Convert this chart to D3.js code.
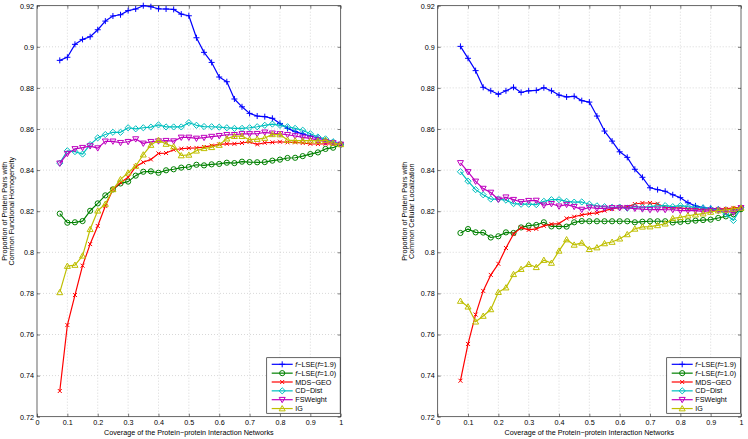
<!DOCTYPE html>
<html><head><meta charset="utf-8">
<script src="https://cdn.jsdelivr.net/npm/d3@7/dist/d3.min.js"></script>
<style>
html,body{margin:0;padding:0;background:#fff;}
svg{display:block;}
text{font-family:"Liberation Sans",Arial,Helvetica,sans-serif;fill:#000;}
</style></head>
<body>
<svg id="chart" width="748" height="439"></svg>
<script>
const coverage = [0.075,0.1,0.125,0.15,0.175,0.2,0.225,0.25,0.275,0.3,0.325,0.35,0.375,0.4,0.425,0.45,0.475,0.5,0.525,0.55,0.575,0.6,0.625,0.65,0.675,0.7,0.725,0.75,0.775,0.8,0.825,0.85,0.875,0.9,0.925,0.95,0.975,1.0];
const seriesNames = ["f-LSE(f=1.9)","f-LSE(f=1.0)","MDS\u2212GEO","CD\u2212Dist","FSWeight","IG"];
const xTicks = [0,0.1,0.2,0.3,0.4,0.5,0.6,0.7,0.8,0.9,1];
const xTickLabels = ["0","0.1","0.2","0.3","0.4","0.5","0.6","0.7","0.8","0.9","1"];
const yTicks = [0.72,0.74,0.76,0.78,0.8,0.82,0.84,0.86,0.88,0.9,0.92];
const yTickLabels = ["0.72","0.74","0.76","0.78","0.8","0.82","0.84","0.86","0.88","0.9","0.92"];
const xLabel = "Coverage of the Protein\u2212protein Interaction Networks";
const yLabelLeft = ["Proportion of Protein Pairs with","Common Functional Homogeneity"];
const yLabelRight = ["Proportion of Protein Pairs with","Common Cellular Localization"];

// Left panel: functional homogeneity
const fhLse19 = [0.8934,0.8949,0.9012,0.9036,0.9049,0.9083,0.9125,0.915,0.9156,0.9176,0.9184,0.92,0.9195,0.9185,0.9184,0.9182,0.9159,0.9151,0.9044,0.8973,0.8924,0.8853,0.883,0.8746,0.8708,0.8676,0.8663,0.866,0.8652,0.8627,0.8603,0.8587,0.8576,0.8566,0.8556,0.8546,0.8535,0.8525];
const fhLse10 = [0.8188,0.8144,0.8146,0.8152,0.8202,0.8238,0.8277,0.8306,0.8335,0.8344,0.8373,0.8392,0.8394,0.8387,0.8399,0.8404,0.8412,0.8415,0.8426,0.8423,0.8428,0.843,0.8436,0.8434,0.8441,0.8439,0.8438,0.8439,0.8446,0.8451,0.8459,0.846,0.8468,0.8478,0.8486,0.8503,0.8509,0.8525];
const fhMds = [0.7325,0.7646,0.7792,0.7935,0.804,0.8128,0.8225,0.8306,0.8339,0.8365,0.8417,0.8438,0.8452,0.8481,0.8483,0.8499,0.8504,0.8507,0.8508,0.8512,0.8519,0.8525,0.8528,0.8528,0.8532,0.8537,0.8525,0.8533,0.8535,0.8538,0.8535,0.8535,0.8532,0.8528,0.8527,0.8528,0.8527,0.8525];
const fhCd = [0.8434,0.8494,0.849,0.8478,0.8524,0.8557,0.8573,0.8584,0.8584,0.8606,0.8601,0.8606,0.8609,0.862,0.861,0.861,0.861,0.8631,0.8618,0.8612,0.8611,0.8609,0.8606,0.8603,0.8603,0.8606,0.8611,0.8618,0.8624,0.8618,0.8611,0.8603,0.8594,0.8577,0.8561,0.8552,0.8538,0.8525];
const fhFs = [0.8433,0.848,0.8503,0.8509,0.8517,0.8507,0.854,0.854,0.8533,0.8538,0.8551,0.853,0.8538,0.8541,0.8543,0.8541,0.8559,0.8559,0.8554,0.8558,0.8563,0.8567,0.8572,0.8572,0.8576,0.8576,0.8577,0.8584,0.8579,0.8576,0.8572,0.8566,0.8559,0.8554,0.8546,0.8538,0.8532,0.8525];
const fhIg = [0.7805,0.7933,0.7938,0.7983,0.8112,0.8202,0.8235,0.8306,0.8355,0.8387,0.842,0.8475,0.8522,0.8546,0.8527,0.8514,0.8471,0.8474,0.8494,0.8506,0.8511,0.8522,0.8553,0.8565,0.8565,0.8548,0.8551,0.8556,0.8574,0.8573,0.8546,0.8543,0.8543,0.8543,0.8542,0.8546,0.8532,0.8525];

// Right panel: cellular localization
const clLse19 = [0.9002,0.8944,0.8884,0.8803,0.8786,0.8769,0.8786,0.8803,0.8778,0.8786,0.8788,0.8801,0.8786,0.8765,0.8756,0.8759,0.8738,0.8731,0.8663,0.859,0.8541,0.8489,0.8462,0.8404,0.8365,0.8314,0.8305,0.8297,0.828,0.8266,0.8241,0.8226,0.8217,0.8214,0.821,0.8208,0.8208,0.8215];
const clLse10 = [0.8094,0.8113,0.8097,0.8096,0.8072,0.8078,0.8097,0.8094,0.8121,0.813,0.8133,0.8146,0.8126,0.8126,0.8125,0.8146,0.8152,0.8151,0.8151,0.8151,0.8151,0.8151,0.8151,0.8146,0.8149,0.8151,0.8151,0.8151,0.8145,0.8148,0.8151,0.8154,0.8157,0.8159,0.8167,0.8175,0.8185,0.821];
const clMds = [0.7375,0.7554,0.7697,0.7812,0.789,0.7944,0.8021,0.8089,0.812,0.8109,0.8114,0.8129,0.8137,0.814,0.8165,0.8173,0.8182,0.8188,0.8192,0.8203,0.8211,0.8219,0.8221,0.8235,0.824,0.824,0.8236,0.8219,0.8216,0.8216,0.8211,0.8211,0.8207,0.8207,0.8211,0.8211,0.8216,0.8219];
const clCd = [0.8392,0.8346,0.8305,0.828,0.8259,0.8259,0.8254,0.8237,0.8234,0.8234,0.8232,0.8248,0.8256,0.8256,0.8248,0.8244,0.8245,0.8234,0.8226,0.8222,0.8219,0.822,0.8215,0.8222,0.8218,0.8222,0.8226,0.8227,0.8222,0.8227,0.8222,0.8219,0.8216,0.8211,0.8206,0.8186,0.8155,0.8216];
const clFs = [0.8435,0.8391,0.8345,0.831,0.8291,0.8257,0.8268,0.8256,0.8245,0.8251,0.8252,0.8229,0.8236,0.8224,0.8232,0.8222,0.8208,0.8218,0.8214,0.8214,0.8216,0.8216,0.8216,0.8213,0.821,0.8207,0.8209,0.8207,0.8207,0.8203,0.8203,0.8203,0.8199,0.8203,0.8203,0.8199,0.8194,0.8216];
const clIg = [0.7763,0.7735,0.7662,0.769,0.7722,0.7806,0.7828,0.7893,0.7918,0.7942,0.7927,0.7962,0.7948,0.8007,0.8062,0.8036,0.8046,0.8015,0.8023,0.8043,0.805,0.8066,0.8087,0.8114,0.8124,0.8125,0.8131,0.8139,0.8165,0.817,0.8178,0.8183,0.8188,0.8196,0.8203,0.8206,0.8211,0.8216];

const colors = ["#0000ff","#008000","#ff0000","#00bfbf","#bf00bf","#bfbf00"];
const markers = ["plus","circle","cross","diamond","tridown","triup"];

function markerPath(type){
  switch(type){
    case "plus": return "M-3,0H3M0,-3V3";
    case "cross": return "M-2,-2L2,2M-2,2L2,-2";
    case "circle": return "M2.6,0A2.6,2.6 0 1 1 -2.6,0A2.6,2.6 0 1 1 2.6,0Z";
    case "diamond": return "M0,-3.1L3.1,0L0,3.1L-3.1,0Z";
    case "tridown": return "M-3,-2.3L3,-2.3L0,3Z";
    case "triup": return "M-3,2.3L3,2.3L0,-3Z";
  }
}

const svg = d3.select("#chart");
const fontSize = 7.2;

function drawPanel(cfg){
  const g = svg.append("g");
  const x = d3.scaleLinear().domain([0,1]).range([cfg.x0, cfg.x1]);
  const y = d3.scaleLinear().domain([0.72,0.92]).range([cfg.y1, cfg.y0]);
  // grid
  g.append("g").selectAll("line.vg").data(xTicks.slice(1,-1)).join("line")
    .attr("x1",d=>x(d)).attr("x2",d=>x(d)).attr("y1",cfg.y0).attr("y2",cfg.y1)
    .attr("stroke","#bdbdbd").attr("stroke-width",0.6).attr("stroke-dasharray","1,2");
  g.append("g").selectAll("line.hg").data(yTicks.slice(1,-1)).join("line")
    .attr("y1",d=>y(d)).attr("y2",d=>y(d)).attr("x1",cfg.x0).attr("x2",cfg.x1)
    .attr("stroke","#bdbdbd").attr("stroke-width",0.6).attr("stroke-dasharray","1,2");

  // axes using d3 axis generators (inward ticks)
  const tl = 3;
  const bottom = d3.axisBottom(x).tickValues(xTicks).tickFormat((d,i)=>xTickLabels[i]).tickSizeInner(-tl).tickSizeOuter(0).tickPadding(3.2);
  const left = d3.axisLeft(y).tickValues(yTicks).tickFormat((d,i)=>yTickLabels[i]).tickSizeInner(-tl).tickSizeOuter(0).tickPadding(3);
  const top = d3.axisTop(x).tickValues(xTicks).tickFormat("").tickSizeInner(-tl).tickSizeOuter(0);
  const right = d3.axisRight(y).tickValues(yTicks).tickFormat("").tickSizeInner(-tl).tickSizeOuter(0);
  const styleAxis = a => {
    a.select(".domain").remove();
    a.selectAll("line").attr("stroke","#262626").attr("stroke-width",0.6);
    a.selectAll("text").attr("font-size",fontSize).attr("font-family","Liberation Sans, Arial, sans-serif").attr("fill","#000");
  };
  g.append("g").attr("transform",`translate(0,${cfg.y1})`).call(bottom).call(styleAxis);
  g.append("g").attr("transform",`translate(${cfg.x0},0)`).call(left).call(styleAxis);
  g.append("g").attr("transform",`translate(0,${cfg.y0})`).call(top).call(styleAxis);
  g.append("g").attr("transform",`translate(${cfg.x1},0)`).call(right).call(styleAxis);
  g.append("rect").attr("x",cfg.x0).attr("y",cfg.y0).attr("width",cfg.x1-cfg.x0).attr("height",cfg.y1-cfg.y0)
    .attr("fill","none").attr("stroke","#262626").attr("stroke-width",0.7);

  // series
  const line = d3.line().x((d,i)=>x(coverage[i])).y(d=>y(d));
  cfg.series.forEach((vals,k)=>{
    const sg = g.append("g");
    sg.append("path").attr("d",line(vals)).attr("fill","none").attr("stroke",colors[k]).attr("stroke-width",1.2).attr("stroke-linejoin","round");
    sg.selectAll("path.m").data(vals).join("path").attr("class","m")
      .attr("transform",(d,i)=>`translate(${x(coverage[i])},${y(d)})`)
      .attr("d",markerPath(markers[k])).attr("fill","none").attr("stroke",colors[k]).attr("stroke-width",1);
  });

  // axis labels
  g.append("text").attr("x",(cfg.x0+cfg.x1)/2).attr("y",435).attr("text-anchor","middle").attr("font-size",fontSize).text(xLabel);
  const ymid = (cfg.y0+cfg.y1)/2;
  cfg.ylabel.forEach((t,i)=>{
    g.append("text").attr("transform",`translate(${cfg.ylabX + i*7.6},${ymid}) rotate(-90)`)
      .attr("text-anchor","middle").attr("font-size",fontSize).text(t);
  });

  // legend
  const lg = g.append("g");
  const bx = cfg.legX, by = 357.7, bw = cfg.x1 - cfg.legX - 0.5, bh = 55.6;
  lg.append("rect").attr("x",bx).attr("y",by).attr("width",bw).attr("height",bh).attr("fill","#fff").attr("stroke","#262626").attr("stroke-width",0.7);
  seriesNames.forEach((name,k)=>{
    const ry = by + 6.6 + k*8.85;
    lg.append("line").attr("x1",bx+5).attr("x2",bx+26).attr("y1",ry).attr("y2",ry).attr("stroke",colors[k]).attr("stroke-width",1.2);
    lg.append("path").attr("transform",`translate(${bx+15.5},${ry})`).attr("d",markerPath(markers[k])).attr("fill","none").attr("stroke",colors[k]).attr("stroke-width",1);
    const t = lg.append("text").attr("x",bx+28.6).attr("y",ry+2.5).attr("font-size",fontSize);
    if(name.indexOf("f-LSE")===0){
      const m = name.match(/^f-LSE\(f=(.*)\)$/);
      t.append("tspan").attr("font-style","italic").text("f");
      t.append("tspan").text("\u2212LSE(");
      t.append("tspan").attr("font-style","italic").text("f");
      t.append("tspan").text("="+m[1]+")");
    } else t.text(name);
  });
}

drawPanel({x0:37, x1:340.7, y0:5.7, y1:416.7, ylabX:6.5, legX:266.7, ylabel:yLabelLeft,
  series:[fhLse19,fhLse10,fhMds,fhCd,fhFs,fhIg]});
drawPanel({x0:437.7, x1:741, y0:5.7, y1:416.7, ylabX:406.5, legX:666.7, ylabel:yLabelRight,
  series:[clLse19,clLse10,clMds,clCd,clFs,clIg]});
</script>
</body></html>
